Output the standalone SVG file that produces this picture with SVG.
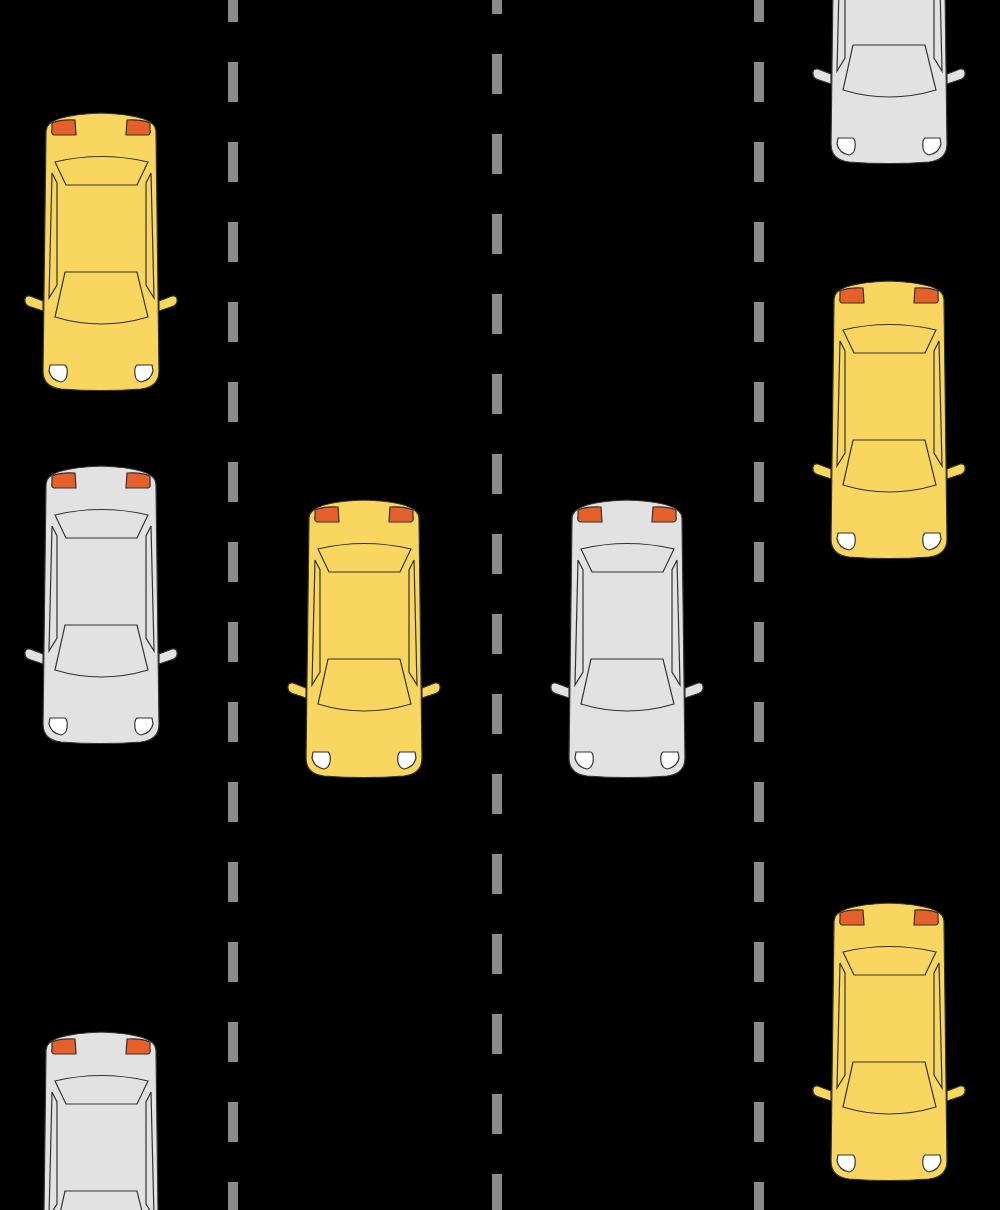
<svg xmlns="http://www.w3.org/2000/svg" xmlns:xlink="http://www.w3.org/1999/xlink" width="1000" height="1210" viewBox="0 0 1000 1210">
<style>
.lane{stroke:#8a8a8a;stroke-width:10;stroke-dasharray:40 40}
.yellow{fill:#F8D660}
.gray{fill:#E2E2E2}
.o{stroke:#333;stroke-width:1.2}
.tail{fill:#E5602B;stroke:#333;stroke-width:1.2}
.head{fill:#fff;stroke:#333;stroke-width:1.2}
.win{fill:none;stroke:#333;stroke-width:1.2}
</style>
<defs>
<g id="car">
<path class="o" d="M -58,188 L -71,183 Q -77,182 -76,189 Q -75,193 -70,194 L -58,198 Z"/>
<path class="o" d="M 58,188 L 71,183 Q 77,182 76,189 Q 75,193 70,194 L 58,198 Z"/>
<path class="o" d="M -55,18 Q -55,2 0,0 Q 55,2 55,18 L 58,258 Q 58,274 40,276 Q 0,279 -40,276 Q -58,274 -58,258 Z"/>
<path class="tail" d="M -49,10 Q -40,6 -26,7 L -25,22 L -47,22 Q -50,21 -49,17 Z"/>
<path class="tail" d="M 49,10 Q 40,6 26,7 L 25,22 L 47,22 Q 50,21 49,17 Z"/>
<path class="win" d="M -46,49 Q 0,38 47,49 L 36,72 L -35,72 Z"/>
<path class="win" d="M -49,60 L -44,70 L -44,172 L -52,185 Z"/>
<path class="win" d="M 50,60 L 45,70 L 45,172 L 53,185 Z"/>
<path class="win" d="M -36,159 L 36,159 L 47,204 Q 0,218 -46,204 Z"/>
<path class="head" d="M -51,252 L -36,252 Q -33,254 -34,262 Q -35,268 -40,269 Q -50,267 -52,258 Z"/>
<path class="head" d="M 51,252 L 36,252 Q 33,254 34,262 Q 35,268 40,269 Q 50,267 52,258 Z"/>
</g>
</defs>
<rect width="1000" height="1210" fill="#000"/>
<g id="lanes">
<line class="lane" x1="233" y1="0" x2="233" y2="1210" stroke-dashoffset="18"/>
<line class="lane" x1="497" y1="0" x2="497" y2="1210" stroke-dashoffset="26"/>
<line class="lane" x1="759" y1="0" x2="759" y2="1210" stroke-dashoffset="18"/>
</g>
<g id="car1" class="yellow"><use xlink:href="#car" transform="translate(101,113)"/></g>
<g id="car2" class="gray"><use xlink:href="#car" transform="translate(101,466)"/></g>
<g id="car3" class="gray"><use xlink:href="#car" transform="translate(101,1032)"/></g>
<g id="car4" class="yellow"><use xlink:href="#car" transform="translate(364,500)"/></g>
<g id="car5" class="gray"><use xlink:href="#car" transform="translate(627,500)"/></g>
<g id="car6" class="gray"><use xlink:href="#car" transform="translate(889,-114)"/></g>
<g id="car7" class="yellow"><use xlink:href="#car" transform="translate(889,281)"/></g>
<g id="car8" class="yellow"><use xlink:href="#car" transform="translate(889,903)"/></g>
</svg>
